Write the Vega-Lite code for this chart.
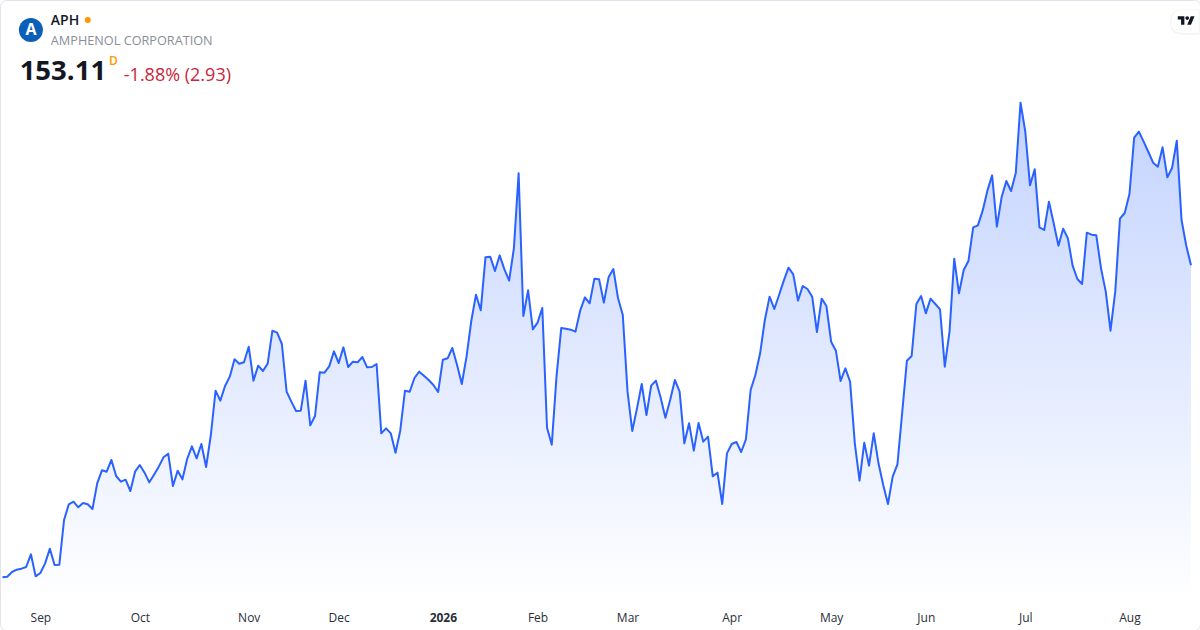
{"$schema":"https://vega.github.io/schema/vega-lite/v6.json","width":1200,"height":630,"autosize":{"type":"fit","contains":"padding"},"padding":0,"background":"#ffffff","view":{"stroke":"#e0e3eb","strokeWidth":1,"cornerRadius":6,"fill":"#ffffff"},
"resolve":{"axis":{"x":"independent"}},
"encoding":{"x":{"field":"date","type":"ordinal","scale":{"type":"point","range":[2.5,1191],"padding":0},"sort":"ascending","axis":null},"y":{"field":"close","type":"quantitative","scale":{"domain":[98.4,192.9],"nice":false,"zero":false},"axis":null}},
"data":{"values":[
{"date":"2025-08-20","close":106.30},{"date":"2025-08-21","close":106.40},{"date":"2025-08-22","close":107.10},{"date":"2025-08-25","close":107.45},{"date":"2025-08-26","close":107.60},{"date":"2025-08-27","close":107.85},{"date":"2025-08-28","close":109.75},{"date":"2025-08-29","close":106.45},
{"date":"2025-09-02","close":106.95},{"date":"2025-09-03","close":108.40},{"date":"2025-09-04","close":110.60},{"date":"2025-09-05","close":108.15},{"date":"2025-09-08","close":108.20},{"date":"2025-09-09","close":114.90},{"date":"2025-09-10","close":117.25},{"date":"2025-09-11","close":117.65},{"date":"2025-09-12","close":116.80},{"date":"2025-09-15","close":117.45},{"date":"2025-09-16","close":117.25},{"date":"2025-09-17","close":116.55},{"date":"2025-09-18","close":120.40},{"date":"2025-09-19","close":122.35},{"date":"2025-09-22","close":122.15},{"date":"2025-09-23","close":123.90},{"date":"2025-09-24","close":121.50},{"date":"2025-09-25","close":120.65},{"date":"2025-09-26","close":120.95},{"date":"2025-09-29","close":119.25},{"date":"2025-09-30","close":122.15},
{"date":"2025-10-01","close":123.15},{"date":"2025-10-02","close":122.00},{"date":"2025-10-03","close":120.55},{"date":"2025-10-06","close":121.70},{"date":"2025-10-07","close":122.90},{"date":"2025-10-08","close":124.30},{"date":"2025-10-09","close":124.85},{"date":"2025-10-10","close":120.00},{"date":"2025-10-13","close":122.30},{"date":"2025-10-14","close":121.00},{"date":"2025-10-15","close":124.05},{"date":"2025-10-16","close":125.95},{"date":"2025-10-17","close":124.15},{"date":"2025-10-20","close":126.30},{"date":"2025-10-21","close":122.85},{"date":"2025-10-22","close":127.65},{"date":"2025-10-23","close":134.30},{"date":"2025-10-24","close":132.80},{"date":"2025-10-27","close":135.00},{"date":"2025-10-28","close":136.40},{"date":"2025-10-29","close":139.00},{"date":"2025-10-30","close":138.35},{"date":"2025-10-31","close":138.55},
{"date":"2025-11-03","close":140.90},{"date":"2025-11-04","close":135.80},{"date":"2025-11-05","close":138.05},{"date":"2025-11-06","close":137.25},{"date":"2025-11-07","close":138.35},{"date":"2025-11-10","close":143.30},{"date":"2025-11-11","close":143.00},{"date":"2025-11-12","close":141.30},{"date":"2025-11-13","close":134.15},{"date":"2025-11-14","close":132.65},{"date":"2025-11-17","close":131.25},{"date":"2025-11-18","close":131.30},{"date":"2025-11-19","close":135.80},{"date":"2025-11-20","close":129.10},{"date":"2025-11-21","close":130.50},{"date":"2025-11-24","close":137.05},{"date":"2025-11-25","close":137.00},{"date":"2025-11-26","close":137.95},{"date":"2025-11-28","close":140.20},
{"date":"2025-12-01","close":138.45},{"date":"2025-12-02","close":140.80},{"date":"2025-12-03","close":137.85},{"date":"2025-12-04","close":138.65},{"date":"2025-12-05","close":138.55},{"date":"2025-12-08","close":139.35},{"date":"2025-12-09","close":137.80},{"date":"2025-12-10","close":137.85},{"date":"2025-12-11","close":138.30},{"date":"2025-12-12","close":127.90},{"date":"2025-12-15","close":128.65},{"date":"2025-12-16","close":127.90},{"date":"2025-12-17","close":125.00},{"date":"2025-12-18","close":128.30},{"date":"2025-12-19","close":134.30},{"date":"2025-12-22","close":134.15},{"date":"2025-12-23","close":136.20},{"date":"2025-12-24","close":137.15},{"date":"2025-12-26","close":136.55},{"date":"2025-12-29","close":135.90},{"date":"2025-12-30","close":135.15},{"date":"2025-12-31","close":134.10},
{"date":"2026-01-02","close":138.95},{"date":"2026-01-05","close":139.15},{"date":"2026-01-06","close":140.70},{"date":"2026-01-07","close":138.15},{"date":"2026-01-08","close":135.30},{"date":"2026-01-09","close":139.40},{"date":"2026-01-12","close":144.75},{"date":"2026-01-13","close":148.70},{"date":"2026-01-14","close":146.35},{"date":"2026-01-15","close":154.30},{"date":"2026-01-16","close":154.40},{"date":"2026-01-20","close":152.25},{"date":"2026-01-21","close":154.60},{"date":"2026-01-22","close":152.50},{"date":"2026-01-23","close":150.80},{"date":"2026-01-26","close":155.65},{"date":"2026-01-27","close":166.90},{"date":"2026-01-28","close":145.50},{"date":"2026-01-29","close":149.35},{"date":"2026-01-30","close":143.50},
{"date":"2026-02-02","close":144.50},{"date":"2026-02-03","close":146.70},{"date":"2026-02-04","close":128.75},{"date":"2026-02-05","close":126.20},{"date":"2026-02-06","close":136.40},{"date":"2026-02-09","close":143.70},{"date":"2026-02-10","close":143.60},{"date":"2026-02-11","close":143.45},{"date":"2026-02-12","close":143.15},{"date":"2026-02-13","close":146.30},{"date":"2026-02-17","close":148.30},{"date":"2026-02-18","close":147.40},{"date":"2026-02-19","close":151.10},{"date":"2026-02-20","close":151.00},{"date":"2026-02-23","close":147.50},{"date":"2026-02-24","close":151.30},{"date":"2026-02-25","close":152.55},{"date":"2026-02-26","close":148.15},{"date":"2026-02-27","close":145.65},
{"date":"2026-03-02","close":134.15},{"date":"2026-03-03","close":128.25},{"date":"2026-03-04","close":131.65},{"date":"2026-03-05","close":135.30},{"date":"2026-03-06","close":130.65},{"date":"2026-03-09","close":135.05},{"date":"2026-03-10","close":135.80},{"date":"2026-03-11","close":133.25},{"date":"2026-03-12","close":130.25},{"date":"2026-03-13","close":132.90},{"date":"2026-03-16","close":135.90},{"date":"2026-03-17","close":134.15},{"date":"2026-03-18","close":126.40},{"date":"2026-03-19","close":129.40},{"date":"2026-03-20","close":125.30},{"date":"2026-03-23","close":129.45},{"date":"2026-03-24","close":126.65},{"date":"2026-03-25","close":127.40},{"date":"2026-03-26","close":121.45},{"date":"2026-03-27","close":122.00},{"date":"2026-03-30","close":117.30},{"date":"2026-03-31","close":124.90},
{"date":"2026-04-01","close":126.30},{"date":"2026-04-02","close":126.60},{"date":"2026-04-06","close":125.10},{"date":"2026-04-07","close":127.00},{"date":"2026-04-08","close":134.40},{"date":"2026-04-09","close":136.65},{"date":"2026-04-10","close":139.90},{"date":"2026-04-13","close":144.90},{"date":"2026-04-14","close":148.40},{"date":"2026-04-15","close":146.55},{"date":"2026-04-16","close":148.65},{"date":"2026-04-17","close":150.80},{"date":"2026-04-20","close":152.75},{"date":"2026-04-21","close":151.75},{"date":"2026-04-22","close":147.80},{"date":"2026-04-23","close":150.00},{"date":"2026-04-24","close":149.55},{"date":"2026-04-27","close":148.40},{"date":"2026-04-28","close":143.10},{"date":"2026-04-29","close":148.10},{"date":"2026-04-30","close":147.00},
{"date":"2026-05-01","close":141.65},{"date":"2026-05-04","close":140.30},{"date":"2026-05-05","close":135.75},{"date":"2026-05-06","close":137.65},{"date":"2026-05-07","close":135.65},{"date":"2026-05-08","close":126.40},{"date":"2026-05-11","close":120.80},{"date":"2026-05-12","close":126.50},{"date":"2026-05-13","close":123.05},{"date":"2026-05-14","close":127.90},{"date":"2026-05-15","close":123.40},{"date":"2026-05-18","close":120.15},{"date":"2026-05-19","close":117.30},{"date":"2026-05-20","close":121.40},{"date":"2026-05-21","close":123.25},{"date":"2026-05-22","close":130.95},{"date":"2026-05-26","close":138.80},{"date":"2026-05-27","close":139.50},{"date":"2026-05-28","close":147.30},{"date":"2026-05-29","close":148.50},
{"date":"2026-06-01","close":145.90},{"date":"2026-06-02","close":148.10},{"date":"2026-06-03","close":147.30},{"date":"2026-06-04","close":146.50},{"date":"2026-06-05","close":137.90},{"date":"2026-06-08","close":143.15},{"date":"2026-06-09","close":154.10},{"date":"2026-06-10","close":148.90},{"date":"2026-06-11","close":152.40},{"date":"2026-06-12","close":153.75},{"date":"2026-06-15","close":158.80},{"date":"2026-06-16","close":159.10},{"date":"2026-06-17","close":161.30},{"date":"2026-06-18","close":164.30},{"date":"2026-06-22","close":166.60},{"date":"2026-06-23","close":158.90},{"date":"2026-06-24","close":163.30},{"date":"2026-06-25","close":165.75},{"date":"2026-06-26","close":164.25},{"date":"2026-06-29","close":167.00},{"date":"2026-06-30","close":177.50},
{"date":"2026-07-01","close":173.15},{"date":"2026-07-02","close":165.10},{"date":"2026-07-06","close":167.50},{"date":"2026-07-07","close":158.80},{"date":"2026-07-08","close":158.40},{"date":"2026-07-09","close":162.65},{"date":"2026-07-10","close":159.40},{"date":"2026-07-13","close":156.05},{"date":"2026-07-14","close":158.60},{"date":"2026-07-15","close":157.15},{"date":"2026-07-16","close":153.05},{"date":"2026-07-17","close":151.05},{"date":"2026-07-20","close":150.30},{"date":"2026-07-21","close":158.00},{"date":"2026-07-22","close":157.70},{"date":"2026-07-23","close":157.60},{"date":"2026-07-24","close":152.65},{"date":"2026-07-27","close":149.15},{"date":"2026-07-28","close":143.30},{"date":"2026-07-29","close":149.15},{"date":"2026-07-30","close":160.10},{"date":"2026-07-31","close":160.95},
{"date":"2026-08-03","close":163.80},{"date":"2026-08-04","close":172.25},{"date":"2026-08-05","close":173.15},{"date":"2026-08-06","close":171.65},{"date":"2026-08-07","close":170.10},{"date":"2026-08-10","close":168.50},{"date":"2026-08-11","close":167.90},{"date":"2026-08-12","close":170.80},{"date":"2026-08-13","close":166.30},{"date":"2026-08-14","close":167.70},{"date":"2026-08-17","close":171.80},{"date":"2026-08-18","close":159.90},{"date":"2026-08-19","close":156.04},{"date":"2026-08-20","close":153.11}
]},
"layer":[
{"mark":{"type":"area","interpolate":"linear","fill":{"gradient":"linear","x1":0,"y1":0,"x2":0,"y2":1,"stops":[{"offset":0,"color":"#c3d3ff"},{"offset":1,"color":"#ffffff"}]}},"encoding":{"y2":{"datum":102.5}}},
{"mark":{"type":"line","interpolate":"linear","color":"#2962ff","strokeWidth":2,"strokeJoin":"round"},"encoding":{"x":{"field":"date","type":"ordinal","axis":{"orient":"bottom","offset":-20,"domain":false,"ticks":false,"grid":false,"title":null,"labelAngle":0,"labelFont":"Open Sans","labelFontSize":12,"labelColor":"#2a2e39","labelPadding":2,"labelOverlap":false,"labelFlush":false,"labelFontWeight":{"condition":{"test":"datum.value==='2026-01-02'","value":"bold"},"value":"normal"},"values":["2025-09-02","2025-10-01","2025-11-03","2025-12-01","2026-01-02","2026-02-02","2026-03-02","2026-04-01","2026-05-01","2026-06-01","2026-07-01","2026-08-03"],"labelExpr":"{'2025-09-02':'Sep','2025-10-01':'Oct','2025-11-03':'Nov','2025-12-01':'Dec','2026-01-02':'2026','2026-02-02':'Feb','2026-03-02':'Mar','2026-04-01':'Apr','2026-05-01':'May','2026-06-01':'Jun','2026-07-01':'Jul','2026-08-03':'Aug'}[datum.value]"}}}},
{"transform":[{"filter":"datum.date==='2026-08-20'"}],"mark":{"type":"point","filled":true,"shape":"circle","size":576,"color":"#0b5fb8","opacity":1},"encoding":{"x":{"datum":"2025-08-28","type":"ordinal","axis":null},"y":{"datum":188.4}}},
{"transform":[{"filter":"datum.date==='2026-08-20'"}],"mark":{"type":"text","text":"A","font":"Open Sans","fontWeight":"bold","fontSize":16,"color":"#ffffff","align":"center","baseline":"middle"},"encoding":{"x":{"datum":"2025-08-28","type":"ordinal","axis":null},"y":{"datum":188.4}}},
{"transform":[{"filter":"datum.date==='2026-08-20'"}],"mark":{"type":"text","text":"APH","font":"Open Sans","fontWeight":600,"fontSize":14,"color":"#131722","align":"left","baseline":"middle","dx":1},"encoding":{"x":{"datum":"2025-09-04","type":"ordinal","axis":null},"y":{"datum":189.75}}},
{"transform":[{"filter":"datum.date==='2026-08-20'"}],"mark":{"type":"point","filled":true,"shape":"circle","size":36,"color":"#ff9800","opacity":1},"encoding":{"x":{"datum":"2025-09-16","type":"ordinal","axis":null},"y":{"datum":189.9}}},
{"transform":[{"filter":"datum.date==='2026-08-20'"}],"mark":{"type":"text","text":"AMPHENOL CORPORATION","font":"Open Sans","fontSize":12.7,"color":"#8a8e97","align":"left","baseline":"middle","dx":1},"encoding":{"x":{"datum":"2025-09-04","type":"ordinal","axis":null},"y":{"datum":186.75}}},
{"transform":[{"filter":"datum.date==='2026-08-20'"}],"mark":{"type":"text","text":"153.11","font":"Open Sans","fontWeight":700,"fontSize":27.5,"color":"#131722","align":"left","baseline":"middle","dx":-1.8},"encoding":{"x":{"datum":"2025-08-26","type":"ordinal","axis":null},"y":{"datum":182.1}}},
{"transform":[{"filter":"datum.date==='2026-08-20'"}],"mark":{"type":"text","text":"D","font":"Open Sans","fontWeight":600,"fontSize":12,"color":"#ff9800","align":"left","baseline":"middle","dx":2.3},"encoding":{"x":{"datum":"2025-09-22","type":"ordinal","axis":null},"y":{"datum":183.75}}},
{"transform":[{"filter":"datum.date==='2026-08-20'"}],"mark":{"type":"text","text":"-1.88% (2.93)","font":"Open Sans","fontSize":18,"color":"#c9263b","align":"left","baseline":"middle","dx":-1.8},"encoding":{"x":{"datum":"2025-09-26","type":"ordinal","axis":null},"y":{"datum":181.5}}},
{"transform":[{"filter":"datum.date==='2026-08-20'"}],"mark":{"type":"point","filled":true,"shape":"M0.5 -0.46 L-0.16 -0.46 Q-0.6 -0.46 -0.6 0 Q-0.6 0.46 -0.16 0.46 L0.5 0.46 Z","size":2900,"color":"#000000","opacity":0.05},"encoding":{"x":{"datum":"2026-08-19","type":"ordinal","axis":null},"y":{"datum":189.6}}},
{"transform":[{"filter":"datum.date==='2026-08-20'"}],"mark":{"type":"point","filled":true,"shape":"M0.5 -0.46 L-0.16 -0.46 Q-0.6 -0.46 -0.6 0 Q-0.6 0.46 -0.16 0.46 L0.5 0.46 Z","size":2500,"color":"#ffffff","opacity":1},"encoding":{"x":{"datum":"2026-08-19","type":"ordinal","axis":null},"y":{"datum":189.68}}},
{"transform":[{"filter":"datum.date==='2026-08-20'"}],"mark":{"type":"point","filled":true,"shape":"M-0.222 0.5 L-0.611 0.5 L-0.611 -0.111 L-1 -0.111 L-1 -0.5 L-0.222 -0.5 Z M0.556 0.5 L0.111 0.5 L0.528 -0.5 L0.972 -0.5 Z M-0.111 -0.278 A0.222 0.222 0 1 0 0.333 -0.278 A0.222 0.222 0 1 0 -0.111 -0.278 Z","size":289,"color":"#131722","opacity":1},"encoding":{"x":{"datum":"2026-08-19","type":"ordinal","axis":null},"y":{"datum":189.83}}}
]}
